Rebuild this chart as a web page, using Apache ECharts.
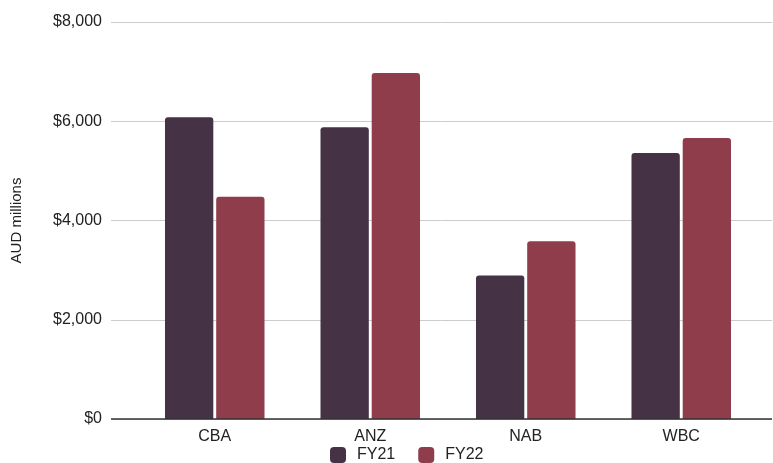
<!DOCTYPE html>
<html>
<head>
<meta charset="utf-8">
<script src="https://cdn.jsdelivr.net/npm/echarts@6/dist/echarts.min.js"></script>
<style>
  html, body { margin: 0; padding: 0; background: #fff; }
  #main { width: 773px; height: 463px; }
</style>
</head>
<body>
<div id="main"></div>
<script>
// bank profits, AUD millions
const banks = ['CBA', 'ANZ', 'NAB', 'WBC'];
const fy21 = [6080, 5880, 2890, 5360];
const fy22 = [4480, 6970, 3580, 5660];
const yTicks = [0, 2000, 4000, 6000, 8000];

const font = 'Liberation Sans, Arial, sans-serif';
const yMax = yTicks[yTicks.length - 1];

let chart = echarts.init(document.getElementById('main'));
let option = {
    animation: false,
    textStyle: { fontFamily: font },
    grid: [
        // background grid: gridlines + y labels (wider than bars)
        { left: 111, right: 1, top: 22, bottom: 44 },
        // bars
        { left: 137, right: 14, top: 22, bottom: 44 }
    ],
    legend: {
        bottom: 0,
        left: 330,
        padding: 0,
        itemWidth: 16,
        itemHeight: 16,
        itemGap: 23,
        textStyle: { fontSize: 16, color: '#222', fontFamily: font, padding: [0, 0, 0, 6] },
        data: ['FY21', 'FY22']
    },
    xAxis: [
        { type: 'value', gridIndex: 0, show: false, min: 0, max: 1 },
        {
            type: 'category', gridIndex: 1, data: banks,
            axisLine: { show: false },
            axisTick: { show: false },
            axisLabel: { fontSize: 16, color: '#222', margin: 10, fontFamily: font }
        }
    ],
    yAxis: [
        {
            type: 'value', gridIndex: 0, min: 0, max: yMax, interval: 2000,
            name: 'AUD millions', nameLocation: 'middle', nameGap: 87,
            nameTextStyle: { fontSize: 15, color: '#222', fontFamily: font },
            axisLine: { show: false },
            axisTick: { show: false },
            axisLabel: {
                fontSize: 16, color: '#222', margin: 9, fontFamily: font,
                formatter: v => '$' + v.toLocaleString('en-US')
            },
            splitLine: { lineStyle: { color: '#cccccc', width: 1 } }
        },
        { type: 'value', gridIndex: 1, min: 0, max: yMax, show: false }
    ],
    series: [
        {
            name: 'FY21', type: 'bar', xAxisIndex: 1, yAxisIndex: 1,
            data: fy21, barGap: '6%', barCategoryGap: '36%',
            itemStyle: { color: '#453345', borderRadius: [3, 3, 0, 0] }
        },
        {
            name: 'FY22', type: 'bar', xAxisIndex: 1, yAxisIndex: 1,
            data: fy22,
            itemStyle: { color: '#8f3c4b', borderRadius: [3, 3, 0, 0] }
        },
        {
            // zero baseline across the full width
            type: 'line', xAxisIndex: 0, yAxisIndex: 0, silent: true,
            data: [], symbol: 'none',
            markLine: {
                silent: true, symbol: 'none', label: { show: false },
                lineStyle: { color: '#333', width: 1.5, type: 'solid' },
                data: [{ yAxis: 0 }]
            }
        }
    ]
};
chart.setOption(option);
</script>
</body>
</html>
